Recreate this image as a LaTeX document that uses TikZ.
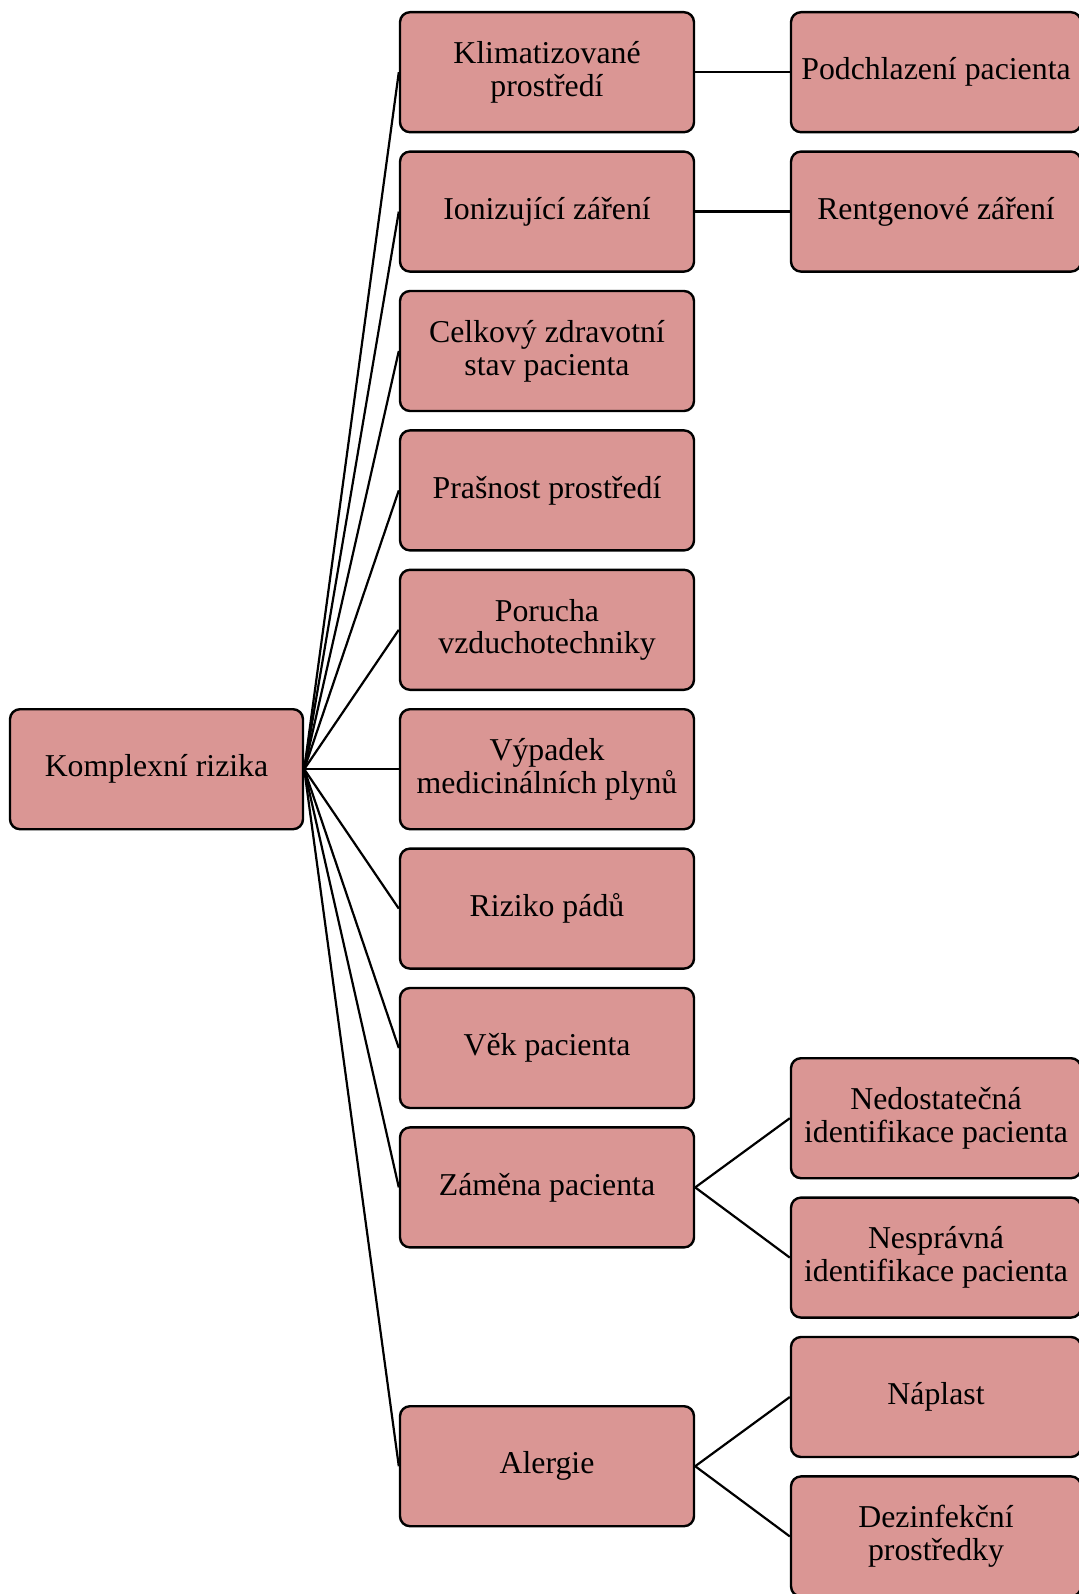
\documentclass[tikz,border=0pt]{standalone}
\usepackage{fontspec}
\setmainfont{Liberation Serif}
\definecolor{boxfill}{HTML}{DA9694}
\begin{document}
\begin{tikzpicture}[x=0.5pt,y=-0.5pt,
  box/.style={draw=black, line width=1.2pt, fill=boxfill, rounded corners=5pt,
    minimum height=60pt, inner sep=0pt, align=center,
    font=\fontsize{15.9pt}{16.4pt}\selectfont},
  rootbox/.style={box, minimum width=146.5pt},
  midbox/.style={box, minimum width=147pt},
  leafbox/.style={box, minimum width=145pt},
  link/.style={draw=black, line width=1.1pt}]
\useasboundingbox (0,0) rectangle (1079,1594);
\clip (0,0) rectangle (1079,1594);

% root
\node[rootbox] (root) at (156.5,769.2) {Komplexní rizika};

% middle column
\node[midbox] (m1)  at (547,72.2)   {Klimatizované\\prostředí};
\node[midbox] (m2)  at (547,211.6)  {Ionizující záření};
\node[midbox] (m3)  at (547,351.0)  {Celkový zdravotní\\stav pacienta};
\node[midbox] (m4)  at (547,490.4)  {Prašnost prostředí};
\node[midbox] (m5)  at (547,629.8)  {Porucha\\vzduchotechniky};
\node[midbox] (m6)  at (547,769.2)  {Výpadek\\medicinálních plynů};
\node[midbox] (m7)  at (547,908.6)  {Riziko pádů};
\node[midbox] (m8)  at (547,1048.0) {Věk pacienta};
\node[midbox] (m9)  at (547,1187.4) {Záměna pacienta};
\node[midbox] (m10) at (547,1466.2) {Alergie};

% right column
\node[leafbox] (r1) at (936,72.2)   {Podchlazení pacienta};
\node[leafbox] (r2) at (936,211.6)  {Rentgenové záření};
\node[leafbox] (r3) at (936,1118.2) {Nedostatečná\\identifikace pacienta};
\node[leafbox] (r4) at (936,1257.6) {Nesprávná\\identifikace pacienta};
\node[leafbox] (r5) at (936,1397.0) {Náplast};
\node[leafbox] (r6) at (936,1536.4) {Dezinfekční\\prostředky};

% connectors
\foreach \m in {m1,m2,m3,m4,m5,m6,m7,m8,m9,m10}
  \draw[link] (root.east) -- (\m.west);
\draw[link] (m1.east) -- (r1.west);
\draw[link] (m2.east) -- (r2.west);
\draw[link] (m9.east) -- (r3.west);
\draw[link] (m9.east) -- (r4.west);
\draw[link] (m10.east) -- (r5.west);
\draw[link] (m10.east) -- (r6.west);
\end{tikzpicture}
\end{document}
